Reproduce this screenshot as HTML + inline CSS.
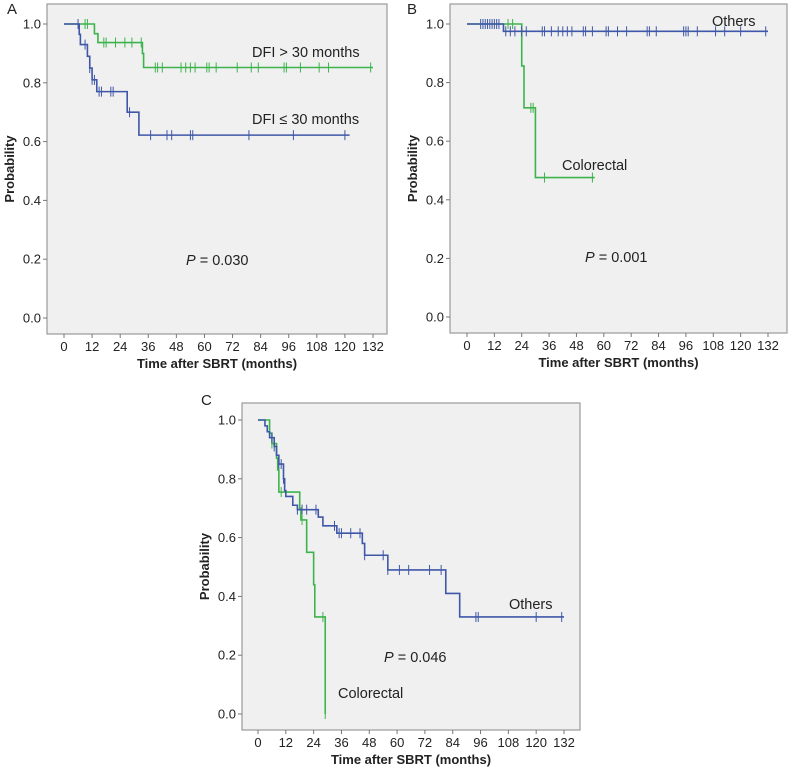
<!DOCTYPE html>
<html><head><meta charset="utf-8"><style>
body{margin:0;background:#fff;}
svg{display:block;font-family:"Liberation Sans",sans-serif;}
</style></head><body>
<svg id="fig" width="790" height="770" viewBox="0 0 790 770"></svg>
<script>
const xTicks=[0,12,24,36,48,60,72,84,96,108,120,132];
const yTicks=[0,0.2,0.4,0.6,0.8,1.0];
// Panel A
const aGreenSteps=[[0,1],[13,0.967],[14.5,0.937],[33.5,0.9],[34,0.852]];
const aGreenCens=[9,10,17,18,22,26,29,33,39,40,42,50,52,54,56,61,62,65,74,80,83,94,95,101,109,113,131];
const aGreenEnd=132;
const aBlueSteps=[[0,1],[6.5,0.965],[7,0.93],[10,0.89],[11,0.85],[12,0.81],[14,0.77],[27,0.70],[32,0.622]];
const aBlueCens=[6,9,11,12,13,15,16,20,21,28,37,44,46,54,55,79,98,120];
const aBlueEnd=122;
// Panel B
const bGreenSteps=[[0,1],[24,0.857],[25,0.714],[30,0.476]];
const bGreenCens=[18,20,28,29,34,55];
const bGreenEnd=56;
const bBlueSteps=[[0,1],[16,0.975]];
const bBlueCens=[6,7,8,9,10,11,12,13,14,17,19,21,24,26,33,34,37,40,42,44,46,51,52,55,61,62,66,70,79,80,83,95,96,97,101,109,113,120,131];
const bBlueEnd=132;
// Panel C
const cGreenSteps=[[0,1],[5,0.955],[6,0.92],[8,0.87],[8.5,0.83],[9,0.755],[18,0.70],[18.5,0.66],[21,0.55],[24,0.44],[24.5,0.33],[29,0.0]];
const cGreenCens=[6,10,19,28,29];
const cGreenEnd=29;
const cBlueSteps=[[0,1],[3,0.98],[4,0.96],[5,0.94],[7,0.91],[8,0.88],[9,0.85],[11,0.80],[11.5,0.76],[12,0.74],[15,0.71],[17,0.695],[26,0.67],[28,0.64],[34,0.615],[45,0.58],[46,0.54],[56,0.49],[81,0.41],[87,0.33]];
const cBlueCens=[6,7,9,10,11,17,19,21,25,33,35,36,40,44,46,54,56,61,65,74,79,94,95,120,131];
const cBlueEnd=132;

const NS="http://www.w3.org/2000/svg";
const svg=document.getElementById('fig');
function el(tag,attrs,parent,text){const e=document.createElementNS(NS,tag);for(const k in attrs)e.setAttribute(k,attrs[k]);if(text!==undefined)e.textContent=text;(parent||svg).appendChild(e);return e;}

function panel(name,letter,lx,ly,box,x0,x132,y1,y0,series,labels,pText,pPos){
  const g=el('g',{},svg);
  
  
  const sx=v=>x0+(x132-x0)*v/132, sy=v=>y0+(y1-y0)*v;
  const bg=el('rect',{x:box[0],y:box[1],width:box[2]-box[0],height:box[3]-box[1],fill:'#f0f0f0',stroke:'#999','stroke-width':1.2},g);
  
  
  const L=el('text',{x:lx,y:ly,'font-size':15,fill:'#222'},g,letter);
  
  
  xTicks.forEach(t=>{
    el('line',{x1:sx(t),x2:sx(t),y1:box[3],y2:box[3]+4,stroke:'#777'},g);
    const tx=el('text',{x:sx(t),y:box[3]+17,'font-size':13,'text-anchor':'middle',fill:'#222'},g,t);
    
    
  });
  yTicks.forEach(t=>{
    el('line',{x1:box[0]-4,x2:box[0],y1:sy(t),y2:sy(t),stroke:'#777'},g);
    const ty=el('text',{x:box[0]-6,y:sy(t)+4.5,'font-size':13,'text-anchor':'end',fill:'#222'},g,t.toFixed(1));
    
    
  });
  const xt=el('text',{x:(box[0]+box[2])/2,y:box[3]+34,'font-size':13,'font-weight':'bold','text-anchor':'middle',fill:'#222'},g,'Time after SBRT (months)');
  
  
  const cy=(box[1]+box[3])/2, cx=box[0]-33;
  const yt=el('text',{x:cx,y:cy,'font-size':13,'font-weight':'bold','text-anchor':'middle',fill:'#222',transform:`rotate(-90 ${cx} ${cy})`},g,'Probability');
  
  
  series.forEach(s=>{
    let d=`M${sx(s.steps[0][0])},${sy(s.steps[0][1])}`;
    for(let i=1;i<s.steps.length;i++){d+=`H${sx(s.steps[i][0])}V${sy(s.steps[i][1])}`;}
    d+=`H${sx(s.end)}`;
    const p=el('path',{d:d,fill:'none',stroke:s.color,'stroke-width':1.6},g);
    
    
    s.cens.forEach(c=>{
      let v=s.steps[0][1];for(const st of s.steps){if(st[0]<=c)v=st[1];}
      const m=el('line',{x1:sx(c),x2:sx(c),y1:sy(v)-5,y2:sy(v)+5,stroke:s.color,'stroke-width':1},g);
      
      
    });
  });
  labels.forEach(l=>{
    const t=el('text',{x:l[0],y:l[1],'font-size':14.5,fill:'#222'},g,l[2]);
    
    
  });
  const pt=el('text',{x:pPos[0],y:pPos[1],'font-size':14.5,fill:'#222'},g);
  
  
  el('tspan',{'font-style':'italic'},pt,'P');
  el('tspan',{},pt,' = '+pText);
}
const G='#3cb44b', B='#3f57a8';
panel('a','A',7,14,[47,4,387,334],64,373,24,318,
 [{name:'dfi-gt-30',steps:aGreenSteps,cens:aGreenCens,end:aGreenEnd,color:G},
  {name:'dfi-le-30',steps:aBlueSteps,cens:aBlueCens,end:aBlueEnd,color:B}],
 [[252,57,'DFI > 30 months'],[252,124,'DFI \u2264 30 months']],'0.030',[186,265]);
panel('b','B',407,14,[450,4,787,333],467,768,24,317,
 [{name:'colorectal',steps:bGreenSteps,cens:bGreenCens,end:bGreenEnd,color:G},
  {name:'others',steps:bBlueSteps,cens:bBlueCens,end:bBlueEnd,color:B}],
 [[712,26,'Others'],[562,170,'Colorectal']],'0.001',[585,262]);
panel('c','C',201,405,[242,403,580,730],258,564,420,714,
 [{name:'colorectal',steps:cGreenSteps,cens:cGreenCens,end:cGreenEnd,color:G},
  {name:'others',steps:cBlueSteps,cens:cBlueCens,end:cBlueEnd,color:B}],
 [[509,609,'Others'],[338,698,'Colorectal']],'0.046',[384,662]);
</script>
</body></html>
